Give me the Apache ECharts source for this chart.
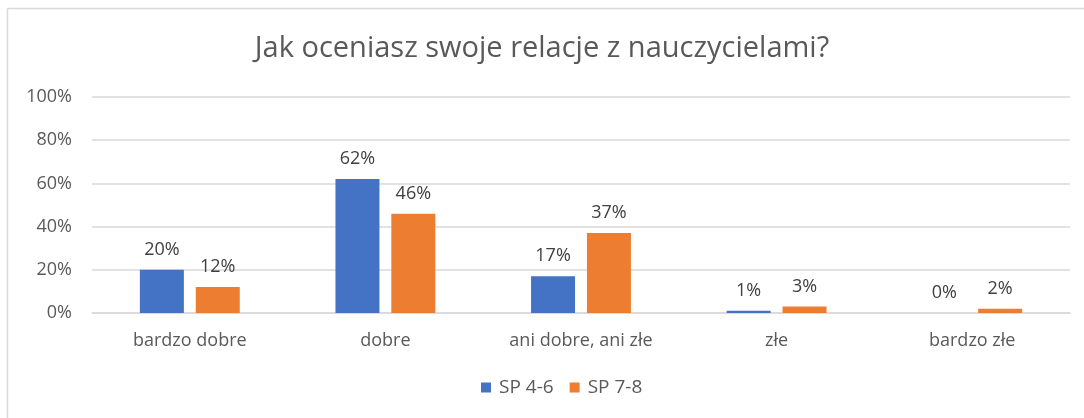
<!DOCTYPE html>
<html>
<head>
<meta charset="utf-8">
<script src="https://cdn.jsdelivr.net/npm/echarts@6/dist/echarts.min.js"></script>
<style>
  html, body { margin: 0; padding: 0; background: #fff; }
  #chart { width: 1084px; height: 418px; }
</style>
</head>
<body>
<div id="chart"></div>
<script>
  const categories = ['bardzo dobre', 'dobre', 'ani dobre, ani złe', 'złe', 'bardzo złe']
  const sp46 = [20, 62, 17, 1, 0]
  const sp78 = [12, 46, 37, 3, 2]
  const yTicks = [0, 20, 40, 60, 80, 100]

  const font = '"Open Sans", "Noto Sans", sans-serif'
  const chart = echarts.init(document.getElementById('chart'))

  const labelStyle = {
    show: true,
    position: 'top',
    distance: 11,
    formatter: '{c}%',
    color: '#404040',
    fontSize: 18,
    fontFamily: font
  }

  chart.setOption({
    animation: false,
    textStyle: { fontFamily: font },
    title: {
      text: 'Jak oceniasz swoje relacje z nauczycielami?',
      left: 'center',
      top: 29,
      textStyle: { color: '#595959', fontSize: 29, fontWeight: 'normal', fontFamily: font }
    },
    graphic: [
      { type: 'line', shape: { x1: 7.5, y1: 8.5, x2: 1084, y2: 8.5 }, style: { stroke: '#d9d9d9', lineWidth: 1.5 } },
      { type: 'line', shape: { x1: 7.5, y1: 8.5, x2: 7.5, y2: 418 }, style: { stroke: '#d9d9d9', lineWidth: 1.5 } }
    ],
    grid: { left: 92, right: 14, top: 97, bottom: 105 },
    legend: {
      data: ['SP 4-6', 'SP 7-8'],
      left: 476,
      top: 373,
      itemWidth: 10,
      itemHeight: 10,
      itemGap: 16,
      icon: 'rect',
      textStyle: { color: '#595959', fontSize: 19, fontFamily: font, padding: [0, 0, 0, 3] }
    },
    xAxis: {
      type: 'category',
      data: categories,
      axisLine: { lineStyle: { color: '#d9d9d9', width: 1.5 } },
      axisTick: { show: false },
      axisLabel: { color: '#595959', fontSize: 18, margin: 19, fontFamily: font }
    },
    yAxis: {
      type: 'value',
      min: yTicks[0],
      max: yTicks[yTicks.length - 1],
      interval: 20,
      axisLine: { show: false },
      axisTick: { show: false },
      splitLine: { lineStyle: { color: '#d9d9d9', width: 1.5 } },
      axisLabel: { color: '#595959', fontSize: 18, margin: 20, formatter: '{value}%', fontFamily: font }
    },
    series: [
      {
        name: 'SP 4-6',
        type: 'bar',
        data: sp46,
        barWidth: 44,
        barGap: '27%',
        itemStyle: { color: '#4472c4' },
        label: labelStyle
      },
      {
        name: 'SP 7-8',
        type: 'bar',
        data: sp78,
        barWidth: 44,
        itemStyle: { color: '#ed7d31' },
        label: labelStyle
      }
    ]
  })
</script>
</body>
</html>
